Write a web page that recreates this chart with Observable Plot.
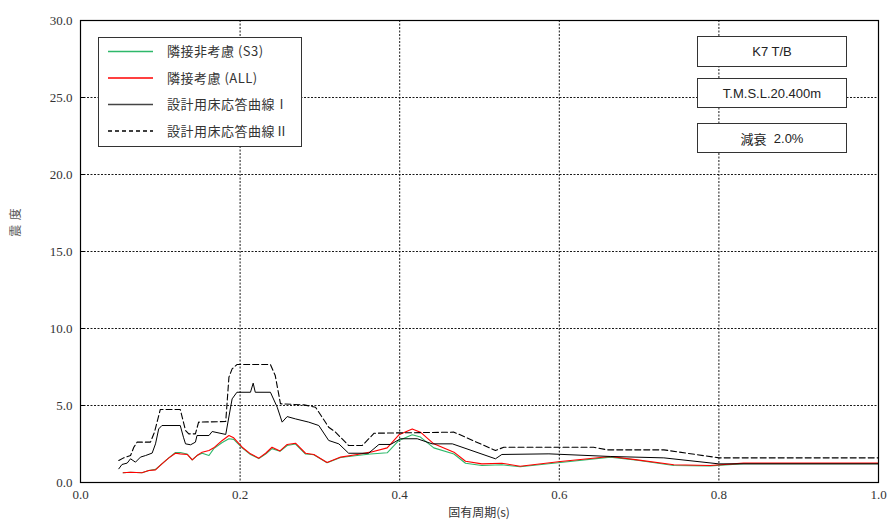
<!DOCTYPE html>
<html>
<head>
<meta charset="utf-8">
<script src="https://cdn.jsdelivr.net/npm/d3@7"></script>
<script src="https://cdn.jsdelivr.net/npm/@observablehq/plot@0.6"></script>
<style>
  html, body { margin: 0; padding: 0; background: #fff; }
  #wrap { position: relative; width: 888px; height: 522px; }
  .box { position: absolute; box-sizing: border-box; border: 1px solid #333; background: #fff;
         font-family: "Liberation Sans", Arial, sans-serif; font-size: 13px; color: #222;
         display: flex; align-items: center; justify-content: center; }
  .box .cjk { font-family: "Noto Sans CJK JP", sans-serif; }
  #legend { position: absolute; left: 98px; top: 37px; }
  #wrap svg g[aria-label$="tick label"] text { font-family: "Liberation Serif", "DejaVu Serif", serif !important; }
</style>
</head>
<body>
<div id="wrap"></div>
<script>
// ---- data (period in s, acceleration / seismic intensity) ----
const xTicks = [0, 0.2, 0.4, 0.6, 0.8, 1.0];
const yTicks = [0, 5, 10, 15, 20, 25, 30];

const seriesNames = ["隣接非考慮 (S3)", "隣接考慮 (ALL)", "設計用床応答曲線Ⅰ", "設計用床応答曲線Ⅱ"];
const infoLabels = ["K7 T/B", "T.M.S.L.20.400m", "減衰  2.0%"];

// design curve I (solid black)
const periodI = [0.048,0.052,0.0585,0.0627,0.0689,0.0752,0.0815,0.0898,0.094,0.098,0.102,0.125,0.129,0.1316,0.138,0.144,0.146,0.161,0.165,0.182,0.19,0.196,0.213,0.2164,0.219,0.238,0.2465,0.2527,0.259,0.2694,0.286,0.2986,0.311,0.3237,0.336,0.361,0.374,0.3885,0.401,0.422,0.4407,0.466,0.52,0.528,0.587,0.664,0.731,0.80,1.0];
const valueI  = [0.89,1.17,1.26,1.54,1.32,1.65,1.75,1.91,2.51,3.48,3.70,3.70,2.94,2.51,2.45,2.62,3.05,3.05,3.31,3.12,5.43,5.86,5.86,6.45,5.86,5.86,4.89,3.92,4.28,4.13,3.92,3.70,2.73,2.51,1.90,1.90,2.47,2.47,2.84,2.84,2.51,2.51,1.54,1.82,1.86,1.69,1.60,1.21,1.21];

// design curve II (dashed black)
const periodII = [0.048,0.054,0.0627,0.0668,0.071,0.0877,0.0927,0.100,0.125,0.1316,0.1357,0.144,0.148,0.182,0.186,0.19,0.196,0.238,0.244,0.2506,0.28,0.2945,0.311,0.3195,0.336,0.353,0.368,0.468,0.52,0.5305,0.643,0.66,0.731,0.80,1.0];
const valueII  = [1.43,1.60,1.75,2.29,2.62,2.62,3.27,4.74,4.74,3.38,3.16,3.16,3.92,3.96,6.84,7.38,7.66,7.66,6.95,5.11,5.04,4.89,3.59,3.27,2.40,2.40,3.20,3.27,2.08,2.29,2.29,2.12,2.12,1.60,1.60];

// adjacent considered (ALL, red)
const periodAll = [0.0535,0.0627,0.077,0.0856,0.094,0.102,0.1107,0.119,0.125,0.1337,0.14,0.146,0.1525,0.161,0.167,0.1776,0.186,0.192,0.2026,0.213,0.2235,0.232,0.240,0.25,0.259,0.2694,0.282,0.2924,0.309,0.326,0.3467,0.3634,0.3843,0.399,0.4157,0.426,0.4427,0.468,0.4825,0.503,0.528,0.551,0.6015,0.664,0.6976,0.7435,0.789,0.831,1.0];
const valueAll  = [0.63,0.67,0.63,0.78,0.82,1.21,1.60,1.90,1.86,1.82,1.47,1.75,1.97,2.08,2.25,2.73,3.05,2.90,2.29,1.86,1.58,1.90,2.29,2.05,2.47,2.55,1.90,1.82,1.30,1.65,1.82,1.97,2.25,3.10,3.48,3.27,2.51,1.97,1.38,1.21,1.25,1.06,1.36,1.69,1.47,1.15,1.10,1.26,1.26];

// adjacent not considered (S3, green)
const periodS3 = [0.0535,0.0627,0.077,0.0856,0.094,0.102,0.1107,0.119,0.125,0.1337,0.14,0.146,0.1525,0.161,0.167,0.1776,0.186,0.192,0.2026,0.213,0.2235,0.232,0.240,0.25,0.259,0.2694,0.282,0.2924,0.309,0.326,0.3467,0.3634,0.3843,0.399,0.4157,0.426,0.4427,0.468,0.4825,0.503,0.528,0.551,0.6015,0.664,0.6976,0.7435,0.789,0.831,1.0];
const valueS3  = [0.63,0.67,0.63,0.78,0.85,1.21,1.60,1.95,1.95,1.85,1.47,1.75,1.90,1.75,2.20,2.60,2.84,2.80,2.25,1.82,1.55,1.85,2.20,2.03,2.40,2.50,1.85,1.80,1.28,1.62,1.75,1.85,1.93,2.73,3.10,2.95,2.25,1.85,1.25,1.10,1.15,1.02,1.30,1.65,1.45,1.10,1.08,1.22,1.22];

const colors = ["#2db86a", "#ff0000", "#000000", "#000000"];
const dashes = [null, null, null, "6,3"];

const rows = (px, vs) => px.map((p, i) => ({period: p, value: vs[i]}));
const serif = "Liberation Serif";

const chart = Plot.plot({
  width: 888, height: 522,
  marginLeft: 80, marginRight: 10, marginTop: 20, marginBottom: 40,
  style: {fontFamily: serif, fontSize: "13px", color: "#333", background: "#fff"},
  x: {domain: [0, 1]},
  y: {domain: [0, 30]},
  marks: [
    Plot.gridX(xTicks, {stroke: "#000", strokeOpacity: 0.9, strokeDasharray: "2,1.5"}),
    Plot.gridY(yTicks, {stroke: "#000", strokeOpacity: 0.9, strokeDasharray: "2,1.5"}),
    Plot.line(rows(periodS3, valueS3), {x: "period", y: "value", stroke: colors[0], strokeWidth: 1.1}),
    Plot.line(rows(periodAll, valueAll), {x: "period", y: "value", stroke: colors[1], strokeWidth: 1.1}),
    Plot.line(rows(periodI, valueI), {x: "period", y: "value", stroke: colors[2], strokeWidth: 1}),
    Plot.line(rows(periodII, valueII), {x: "period", y: "value", stroke: colors[3], strokeWidth: 1.1, strokeDasharray: dashes[3]}),
    Plot.ruleY(yTicks, {x1: 0, x2: 0.006, stroke: "#000"}),
    Plot.frame({stroke: "#000", strokeWidth: 1.2}),
    Plot.axisX(xTicks, {tickSize: 0, tickPadding: 7, label: null, fontFamily: serif, fontSize: 13, tickFormat: d3.format(".1f")}),
    Plot.axisY(yTicks, {tickSize: 0, tickPadding: 8, label: null, fontFamily: serif, fontSize: 13, tickFormat: d3.format(".1f")})
  ]
});

const wrap = document.getElementById("wrap");
wrap.appendChild(chart);

const svg = d3.select(chart);
svg.selectAll("text").filter(function () { return !this.closest("#legend"); })
  .style("font-family", "'Liberation Serif', 'DejaVu Serif', serif");
svg.append("text")
  .attr("x", 479).attr("y", 517)
  .attr("text-anchor", "middle")
  .attr("font-family", "'Noto Sans CJK JP', sans-serif")
  .attr("font-size", 12).attr("fill", "#333")
  .text("固有周期(s)");
svg.append("text")
  .attr("transform", "translate(20,222) rotate(-90)")
  .attr("text-anchor", "middle")
  .attr("font-family", "'Noto Sans CJK JP', sans-serif")
  .attr("font-size", 12).attr("fill", "#555")
  .attr("letter-spacing", "1px")
  .text("震 度");

// legend
const lg = d3.select(wrap).append("svg").attr("id", "legend")
  .attr("width", 205).attr("height", 111);
lg.append("rect").attr("x", 0.5).attr("y", 0.5).attr("width", 203).attr("height", 109)
  .attr("fill", "#fff").attr("stroke", "#333");
seriesNames.forEach((name, i) => {
  const cy = 14.5 + i * 26.5;
  lg.append("line").attr("x1", 10).attr("x2", 55).attr("y1", cy).attr("y2", cy)
    .attr("stroke", i === 2 ? "#444" : colors[i]).attr("stroke-width", i === 2 ? 1.6 : 1.4)
    .attr("stroke-dasharray", i === 3 ? "4,3" : null);
  lg.append("text").attr("x", 69).attr("y", cy).attr("dy", "0.36em")
    .attr("font-family", "'Noto Sans CJK JP', sans-serif").attr("font-size", 13)
    .attr("letter-spacing", "0.5px").attr("fill", "#333").text(name);
});

// info boxes
const boxPos = [[36, 31], [78, 30], [123, 30]];
infoLabels.forEach((t, i) => {
  const d = document.createElement("div");
  d.className = "box";
  d.style.left = "697px"; d.style.width = "150px";
  d.style.top = boxPos[i][0] + "px"; d.style.height = boxPos[i][1] + "px";
  if (i === 2) {
    d.innerHTML = '<span class="cjk">減衰</span>&nbsp;&nbsp;<span>2.0%</span>';
  } else {
    d.textContent = t;
  }
  wrap.appendChild(d);
});
</script>
</body>
</html>
